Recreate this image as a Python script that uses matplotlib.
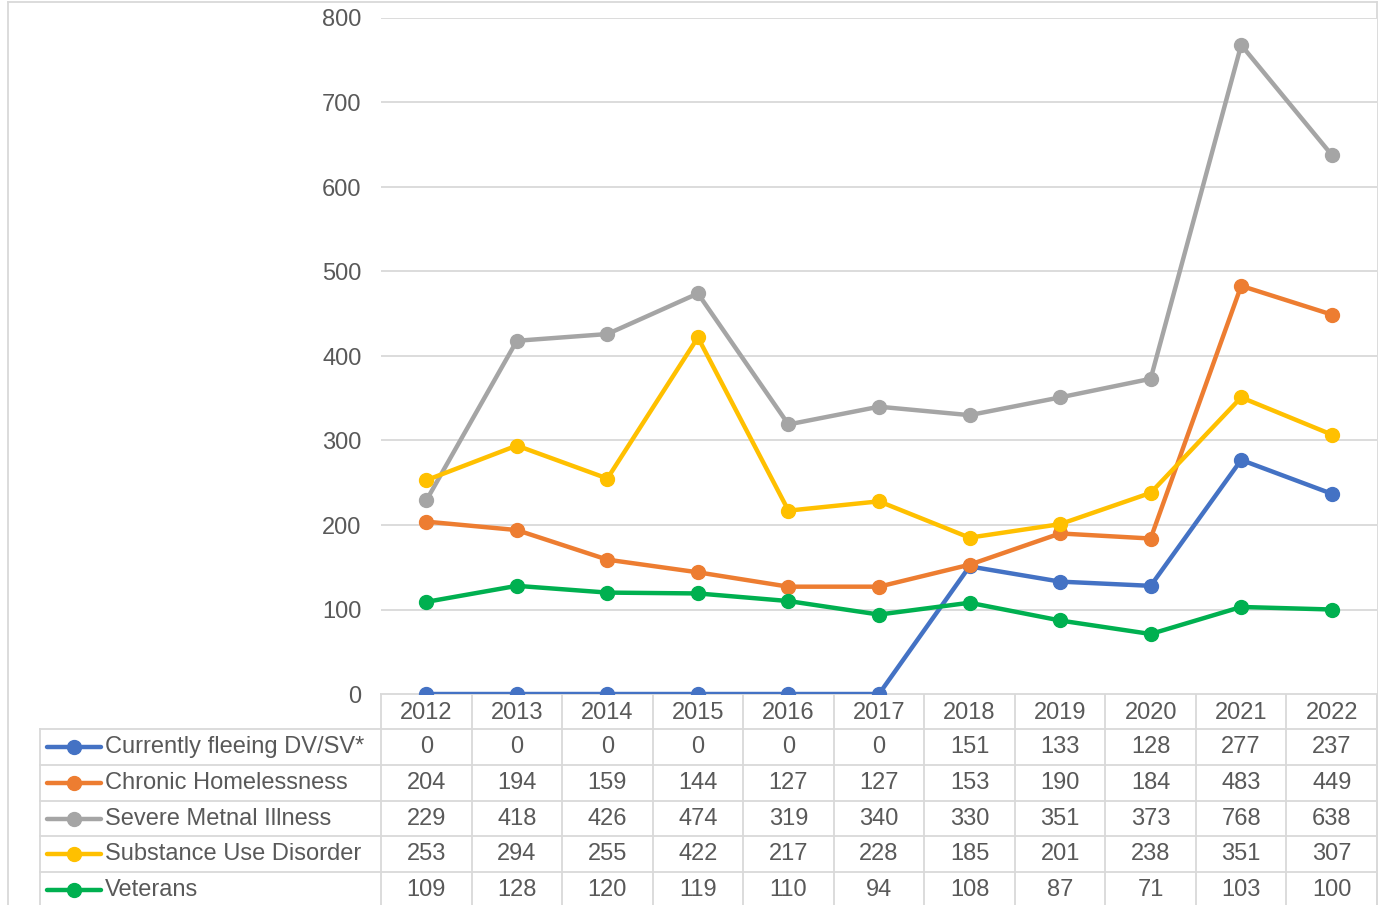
import numpy as np
import matplotlib.pyplot as plt
from matplotlib.lines import Line2D

plt.rcParams['font.family'] = ['Liberation Sans', 'DejaVu Sans']

years = ['2012', '2013', '2014', '2015', '2016', '2017', '2018', '2019', '2020', '2021', '2022']
fleeing = [0, 0, 0, 0, 0, 0, 151, 133, 128, 277, 237]
chronic = [204, 194, 159, 144, 127, 127, 153, 190, 184, 483, 449]
mental = [229, 418, 426, 474, 319, 340, 330, 351, 373, 768, 638]
substance = [253, 294, 255, 422, 217, 228, 185, 201, 238, 351, 307]
veterans = [109, 128, 120, 119, 110, 94, 108, 87, 71, 103, 100]

names = ['Currently fleeing DV/SV*', 'Chronic Homelessness', 'Severe Metnal Illness',
         'Substance Use Disorder', 'Veterans']
series = [fleeing, chronic, mental, substance, veterans]
colors = ['#4472C4', '#ED7D31', '#A5A5A5', '#FFC000', '#00B050']

W, H = 1382, 905
txt = '#595959'
grid = '#D9D9D9'
fs = 17

fig = plt.figure(figsize=(W / 100, H / 100), dpi=100)

# plot area in pixels
px0, px1, py0, py1 = 381, 1377, 18, 694
ax = fig.add_axes([px0 / W, 1 - py1 / H, (px1 - px0) / W, (py1 - py0) / H])
x = np.arange(len(years))
for vals, c in zip(series, colors):
    ax.plot(x, vals, color=c, lw=3.2, marker='o', ms=10, zorder=3)
ax.set_xlim(-0.5, len(years) - 0.5)
ax.set_ylim(0, 800)
ax.set_yticks(range(0, 801, 100))
ax.tick_params(axis='y', length=0, pad=14, labelsize=fs, labelcolor=txt)
ax.set_xticks([])
ax.grid(axis='y', color=grid, lw=1.3)
ax.set_axisbelow(True)
for s in ax.spines.values():
    s.set_visible(False)

# overlay in pixel coordinates for the data table and chart border
ov = fig.add_axes([0, 0, 1, 1], zorder=-1)
ov.set_xlim(0, W)
ov.set_ylim(H, 0)
ov.axis('off')

ov.plot([8, 8], [2, H], color=grid, lw=1.3)
ov.plot([8, 1377], [2, 2], color=grid, lw=1.3)
ov.plot([1377, 1377], [2, H], color=grid, lw=1.3)

col_w = (px1 - px0) / len(years)
row_top = 729
row_h = 35.8
leg_x0 = 40

ov.plot([px0, px1], [py1, py1], color=grid, lw=1.3)
for k in range(len(years) + 1):
    xx = px0 + k * col_w
    ov.plot([xx, xx], [py1, H], color=grid, lw=1.3)
for r in range(len(series)):
    yy = row_top + r * row_h
    ov.plot([leg_x0, px1], [yy, yy], color=grid, lw=1.3)
ov.plot([leg_x0, leg_x0], [row_top, H], color=grid, lw=1.3)

for k, yr in enumerate(years):
    ov.text(px0 + (k + 0.5) * col_w, (py1 + row_top) / 2 + 1, yr, ha='center', va='center',
            fontsize=fs, color=txt)

for r, (name, vals, c) in enumerate(zip(names, series, colors)):
    yc = row_top + (r + 0.5) * row_h
    ov.add_line(Line2D([47, 101], [yc, yc], color=c, lw=3.2, solid_capstyle='round'))
    ov.plot([74], [yc], marker='o', ms=10, color=c)
    ov.text(105, yc, name, ha='left', va='center', fontsize=fs, color=txt)
    for k, v in enumerate(vals):
        ov.text(px0 + (k + 0.5) * col_w, yc, str(v), ha='center', va='center',
                fontsize=fs, color=txt)

fig.savefig('out.png', dpi=100)
